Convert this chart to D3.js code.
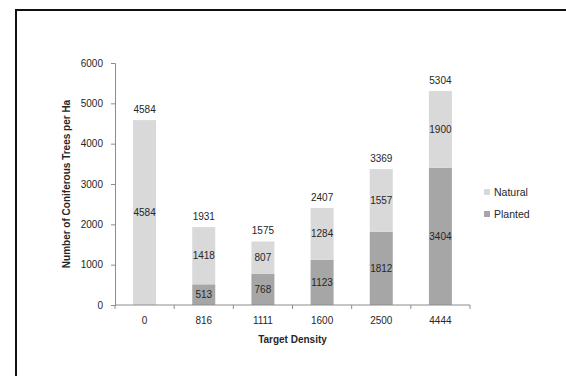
<!DOCTYPE html>
<html>
<head>
<meta charset="utf-8">
<script src="https://cdn.jsdelivr.net/npm/d3@7"></script>
<style>
  body { margin: 0; background: #fff; }
  svg { display: block; font-family: "Liberation Sans", Arial, sans-serif; }
</style>
</head>
<body>
<div id="chart"></div>
<script>
const CATEGORIES = ["0", "816", "1111", "1600", "2500", "4444"];
const PLANTED = [0, 513, 768, 1123, 1812, 3404];
const NATURAL = [4584, 1418, 807, 1284, 1557, 1900];
const Y_TICKS = [0, 1000, 2000, 3000, 4000, 5000, 6000];

const COLORS = { natural: "#d9d9d9", planted: "#a6a6a6" };
const AXIS_COLOR = "#8c8c8c";
const TEXT_COLOR = "#262626";
const FONT = "10px";

const width = 566, height = 376;
const margins = { top: 63, left: 115, right: 96, bottom: 71 };

const svg = d3.select("#chart").append("svg")
  .attr("width", width)
  .attr("height", height);

// outer frame (right and bottom edges fall outside the picture)
svg.append("rect")
  .attr("x", 16).attr("y", 10)
  .attr("width", 600).attr("height", 400)
  .attr("fill", "none")
  .attr("stroke", "#111")
  .attr("stroke-width", 2);

const data = CATEGORIES.map((c, i) => ({
  cat: c, planted: PLANTED[i], natural: NATURAL[i], total: PLANTED[i] + NATURAL[i]
}));

const innerW = width - margins.left - margins.right;
const innerH = height - margins.top - margins.bottom;

const x = d3.scaleBand().domain(CATEGORIES).range([0, innerW]).paddingInner(0).paddingOuter(0);
const y = d3.scaleLinear().domain([0, 6000]).range([innerH, 0]);

const g = svg.append("g").attr("transform", `translate(${margins.left},${margins.top})`);

const barW = 23;
const stack = d3.stack().keys(["planted", "natural"]);
const series = stack(data);

g.selectAll("g.series")
  .data(series)
  .join("g")
  .attr("class", "series")
  .attr("fill", (s) => COLORS[s.key])
  .selectAll("rect")
  .data((s) => s)
  .join("rect")
  .attr("x", (d) => x(d.data.cat) + x.bandwidth() / 2 - barW / 2)
  .attr("width", barW)
  .attr("y", (d) => y(d[1]))
  .attr("height", (d) => y(d[0]) - y(d[1]));

// Segment labels
series.forEach((s) => {
  g.append("g").selectAll("text")
    .data(s.filter((d) => d[1] - d[0] > 0))
    .join("text")
    .attr("x", (d) => x(d.data.cat) + x.bandwidth() / 2)
    .attr("y", (d) => y((d[0] + d[1]) / 2))
    .attr("dy", "0.35em")
    .attr("text-anchor", "middle")
    .attr("font-size", FONT)
    .attr("fill", TEXT_COLOR)
    .text((d) => d[1] - d[0]);
});

// Total labels
g.append("g").selectAll("text")
  .data(data)
  .join("text")
  .attr("x", (d) => x(d.cat) + x.bandwidth() / 2)
  .attr("y", (d) => y(d.total) - 7)
  .attr("text-anchor", "middle")
  .attr("font-size", FONT)
  .attr("fill", TEXT_COLOR)
  .text((d) => d.total);

// Y axis
const yAxis = g.append("g")
  .call(d3.axisLeft(y).tickValues(Y_TICKS).tickSize(4).tickPadding(8).tickFormat(d3.format("d")));
yAxis.select(".domain").attr("stroke", AXIS_COLOR);
yAxis.selectAll(".tick line").attr("stroke", AXIS_COLOR);
yAxis.selectAll(".tick text").attr("font-size", FONT).attr("fill", TEXT_COLOR)
  .attr("font-family", "Liberation Sans, Arial, sans-serif");

// X axis: ticks at category boundaries
const xAxisG = g.append("g").attr("transform", `translate(0,${innerH})`);
xAxisG.append("line")
  .attr("x1", 0).attr("x2", innerW)
  .attr("stroke", AXIS_COLOR);
const bounds = CATEGORIES.map((c) => x(c)).concat([innerW]);
xAxisG.selectAll("line.tk")
  .data(bounds)
  .join("line")
  .attr("class", "tk")
  .attr("x1", (d) => d).attr("x2", (d) => d)
  .attr("y1", 0).attr("y2", 4)
  .attr("stroke", AXIS_COLOR);
xAxisG.selectAll("text")
  .data(CATEGORIES)
  .join("text")
  .attr("x", (d) => x(d) + x.bandwidth() / 2)
  .attr("y", 19)
  .attr("text-anchor", "middle")
  .attr("font-size", FONT)
  .attr("fill", TEXT_COLOR)
  .text((d) => d);

// Axis titles
g.append("text")
  .attr("x", innerW / 2)
  .attr("y", innerH + 38)
  .attr("text-anchor", "middle")
  .attr("font-size", "10px")
  .attr("font-weight", "bold")
  .attr("fill", TEXT_COLOR)
  .text("Target Density");

g.append("text")
  .attr("transform", "rotate(-90)")
  .attr("x", -y(3000))
  .attr("y", -45)
  .attr("text-anchor", "middle")
  .attr("font-size", "10px")
  .attr("font-weight", "bold")
  .attr("fill", TEXT_COLOR)
  .text("Number of Coniferous Trees per Ha");

// Legend
const legend = svg.append("g").attr("transform", "translate(484,189)");
[
  { label: "Natural", color: COLORS.natural },
  { label: "Planted", color: COLORS.planted },
].forEach((item, i) => {
  const lg = legend.append("g").attr("transform", `translate(0,${i * 22})`);
  lg.append("rect").attr("width", 6).attr("height", 6).attr("fill", item.color);
  lg.append("text").attr("x", 10).attr("y", 7)
    .attr("font-size", "10.5px").attr("fill", TEXT_COLOR).text(item.label);
});
</script>
</body>
</html>
